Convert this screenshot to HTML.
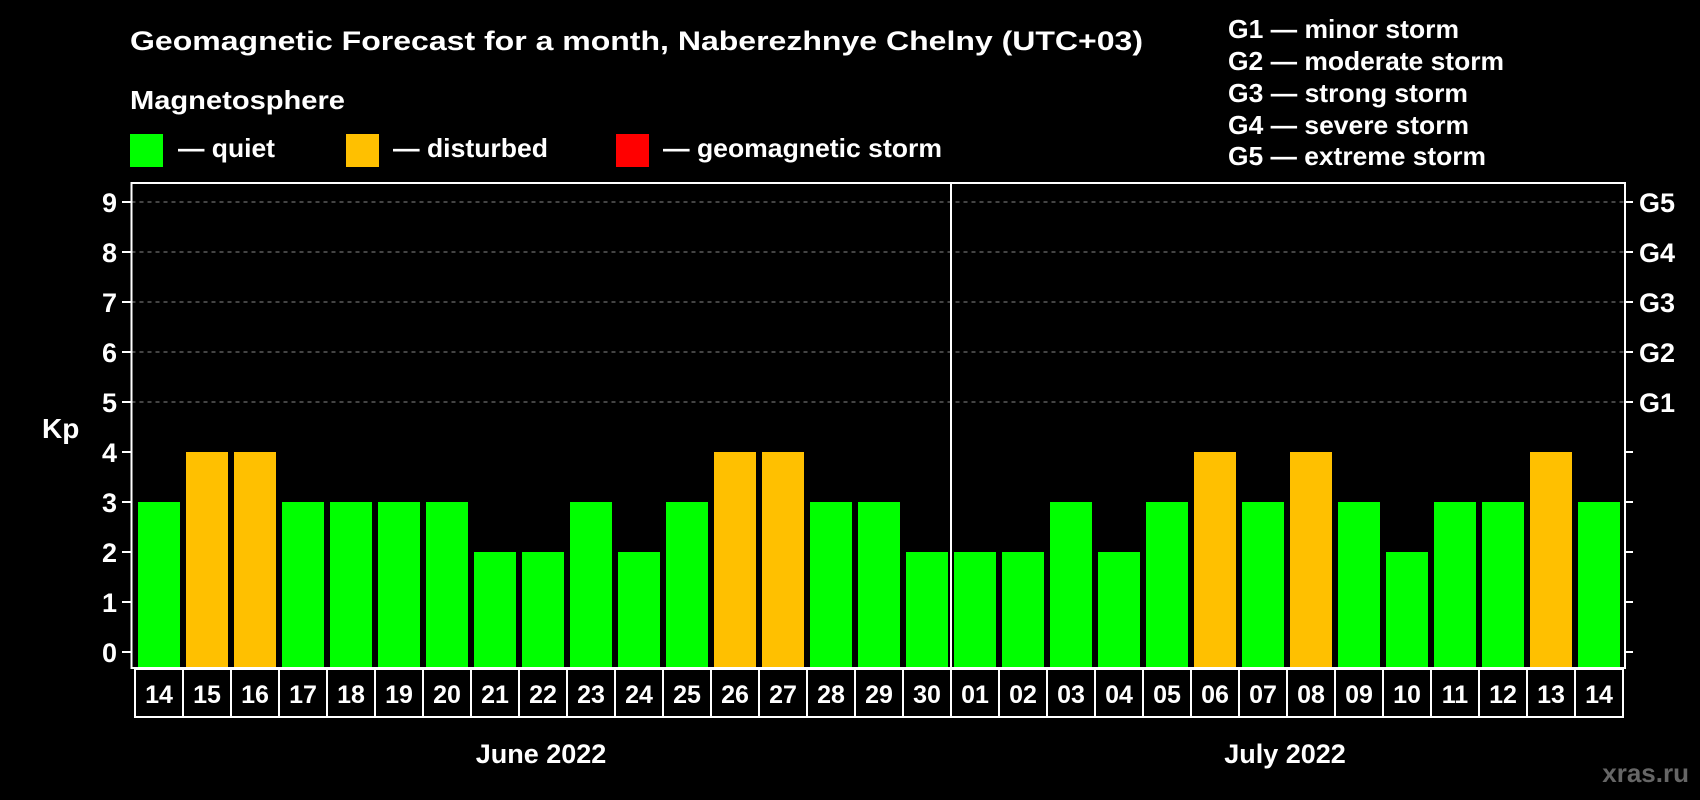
<!DOCTYPE html>
<html><head><meta charset="utf-8"><style>
html,body{margin:0;padding:0;background:#000;}
svg{display:block;font-family:"Liberation Sans",Arial,sans-serif;font-weight:bold;}
</style></head><body>
<svg id="chart" width="1700" height="800" viewBox="0 0 1700 800">
<text x="130" y="50" fill="#fff" font-size="27" textLength="1013" lengthAdjust="spacingAndGlyphs">Geomagnetic Forecast for a month, Naberezhnye Chelny (UTC+03)</text>
<text x="130" y="109" fill="#fff" font-size="26" textLength="215" lengthAdjust="spacingAndGlyphs">Magnetosphere</text>
<g><rect x="130" y="134" width="33" height="33" fill="#00ff00"/><text x="178" y="157" fill="#fff" font-size="26" textLength="97" lengthAdjust="spacingAndGlyphs">— quiet</text></g>
<g><rect x="346" y="134" width="33" height="33" fill="#ffc000"/><text x="393" y="157" fill="#fff" font-size="26" textLength="155" lengthAdjust="spacingAndGlyphs">— disturbed</text></g>
<g><rect x="616" y="134" width="33" height="33" fill="#ff0000"/><text x="663" y="157" fill="#fff" font-size="26" textLength="279" lengthAdjust="spacingAndGlyphs">— geomagnetic storm</text></g>
<g fill="#fff" font-size="26">
<text x="1228" y="38" textLength="231" lengthAdjust="spacingAndGlyphs">G1 — minor storm</text><text x="1228" y="70" textLength="276" lengthAdjust="spacingAndGlyphs">G2 — moderate storm</text><text x="1228" y="102" textLength="240" lengthAdjust="spacingAndGlyphs">G3 — strong storm</text><text x="1228" y="134" textLength="241" lengthAdjust="spacingAndGlyphs">G4 — severe storm</text><text x="1228" y="165" textLength="258" lengthAdjust="spacingAndGlyphs">G5 — extreme storm</text></g>
<text x="42" y="438" fill="#fff" font-size="28">Kp</text>
<g id="grid"></g><g id="bars"></g><g id="axes"></g>
<text x="541" y="763" fill="#fff" font-size="27" text-anchor="middle">June 2022</text>
<text x="1285" y="763" fill="#fff" font-size="27" text-anchor="middle">July 2022</text>
<text x="1689" y="782" fill="#666" font-size="26" text-anchor="end">xras.ru</text>
</svg>
<script>
const days = ["14","15","16","17","18","19","20","21","22","23","24","25","26","27","28","29","30","01","02","03","04","05","06","07","08","09","10","11","12","13","14"];
const kpValues = [3,4,4,3,3,3,3,2,2,3,2,3,4,4,3,3,2,2,2,3,2,3,4,3,4,3,2,3,3,4,3];
const yTicks = [0,1,2,3,4,5,6,7,8,9];
const gLabels = ["G1","G2","G3","G4","G5"];
const NS="http://www.w3.org/2000/svg";
const L=131.5,R=1625,T=183,B=668;
const y=v=>652-v*50;
const x=i=>138+i*48;
function mk(t,a,p){const e=document.createElementNS(NS,t);for(const k in a)e.setAttribute(k,a[k]);p.appendChild(e);return e;}
const grid=document.getElementById('grid'),bars=document.getElementById('bars'),axes=document.getElementById('axes');
yTicks.forEach(v=>{
  if(v>=5){const g=mk('line',{x1:L,x2:R,y1:y(v),y2:y(v),stroke:'#888','stroke-dasharray':'4,4','stroke-width':1},grid);
  
  }
  mk('line',{x1:122,x2:L,y1:y(v),y2:y(v),stroke:'#fff','stroke-width':2},axes);
  mk('line',{x1:R,x2:1633,y1:y(v),y2:y(v),stroke:'#fff','stroke-width':2},axes);
  const t=mk('text',{x:117,y:y(v)+10,fill:'#fff','font-size':27,'text-anchor':'end'},axes);t.textContent=v;
  
  
});
gLabels.forEach((g,i)=>{const t=mk('text',{x:1639,y:y(5+i)+10,fill:'#fff','font-size':27},axes);t.textContent=g;
  
  });
kpValues.forEach((v,i)=>{
  const c=v>=5?'#ff0000':(v>=4?'#ffc000':'#00ff00');
  const r=mk('rect',{x:x(i),y:y(v),width:42,height:B-y(v),fill:c},bars);
  
  
  const cell=mk('rect',{x:x(i)-3,y:669,width:48,height:48,fill:'none',stroke:'#fff','stroke-width':2},axes);
  
  
  const t=mk('text',{x:x(i)+21,y:703,fill:'#fff','font-size':25,'text-anchor':'middle'},axes);t.textContent=days[i];
  
  
});
const f=mk('rect',{x:L,y:T,width:R-L,height:B-T,fill:'none',stroke:'#fff','stroke-width':2},axes);


const s=mk('line',{x1:951,x2:951,y1:T,y2:B,stroke:'#fff','stroke-width':2},axes);


</script>
</body></html>
